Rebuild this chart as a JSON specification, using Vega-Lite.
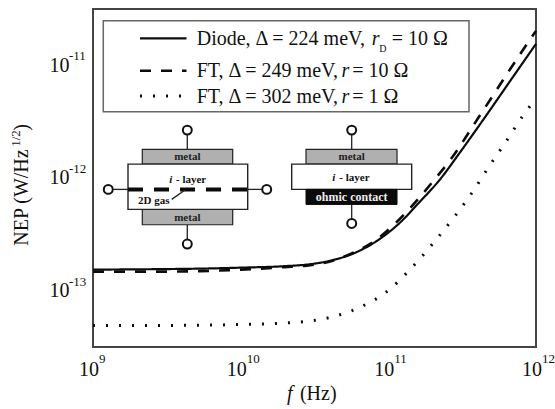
{
"$schema":"https://vega.github.io/schema/vega-lite/v6.json",
"width":443,"height":338,
"autosize":{"type":"none"},
"padding":{"left":93,"top":9,"right":19,"bottom":62},
"background":"white",
"config":{"view":{"stroke":"#444","strokeWidth":2},"text":{"font":"Liberation Serif","color":"#111"}},
"datasets":{
 "xminor":[{"f":2e9},{"f":3e9},{"f":4e9},{"f":5e9},{"f":6e9},{"f":7e9},{"f":8e9},{"f":9e9},{"f":2e10},{"f":3e10},{"f":4e10},{"f":5e10},{"f":6e10},{"f":7e10},{"f":8e10},{"f":9e10},{"f":2e11},{"f":3e11},{"f":4e11},{"f":5e11},{"f":6e11},{"f":7e11},{"f":8e11},{"f":9e11}],
 "xmajor":[{"f":1e10},{"f":1e11}],
 "yminor":[{"nep":4e-14},{"nep":5e-14},{"nep":6e-14},{"nep":7e-14},{"nep":8e-14},{"nep":9e-14},{"nep":2e-13},{"nep":3e-13},{"nep":4e-13},{"nep":5e-13},{"nep":6e-13},{"nep":7e-13},{"nep":8e-13},{"nep":9e-13},{"nep":2e-12},{"nep":3e-12},{"nep":4e-12},{"nep":5e-12},{"nep":6e-12},{"nep":7e-12},{"nep":8e-12},{"nep":9e-12},{"nep":2e-11}],
 "ymajor":[{"nep":1e-13},{"nep":1e-12},{"nep":1e-11}]
},
"encoding":{
 "x":{"field":"f","type":"quantitative","scale":{"type":"log","domain":[1e9,1e12],"nice":false,"zero":false},"axis":null},
 "y":{"field":"nep","type":"quantitative","scale":{"type":"log","domain":[3e-14,3e-11],"nice":false,"zero":false},"axis":null}
},
"resolve":{"axis":{"x":"independent","y":"independent"}},
"layer":[
{"data":{"values":[
 {"series":"Diode","f":1e9,"nep":1.458e-13},{"series":"Diode","f":2.84e9,"nep":1.473e-13},{"series":"Diode","f":5.29e9,"nep":1.488e-13},{"series":"Diode","f":1e10,"nep":1.518e-13},{"series":"Diode","f":1.98e10,"nep":1.565e-13},{"series":"Diode","f":2.97e10,"nep":1.631e-13},{"series":"Diode","f":4.19e10,"nep":1.769e-13},{"series":"Diode","f":6.08e10,"nep":2.083e-13},{"series":"Diode","f":8.69e10,"nep":2.714e-13},{"series":"Diode","f":1.186e11,"nep":3.76e-13},{"series":"Diode","f":1.62e11,"nep":5.77e-13},{"series":"Diode","f":2.21e11,"nep":9.03e-13},{"series":"Diode","f":3.02e11,"nep":1.566e-12},{"series":"Diode","f":4.12e11,"nep":2.77e-12},{"series":"Diode","f":6.89e11,"nep":7.3e-12},{"series":"Diode","f":1e12,"nep":1.472e-11},
 {"series":"FT 249","f":1e9,"nep":1.40e-13},{"series":"FT 249","f":2.84e9,"nep":1.40e-13},{"series":"FT 249","f":5.29e9,"nep":1.414e-13},{"series":"FT 249","f":1e10,"nep":1.458e-13},{"series":"FT 249","f":1.98e10,"nep":1.534e-13},{"series":"FT 249","f":2.79e10,"nep":1.581e-13},{"series":"FT 249","f":4.19e10,"nep":1.751e-13},{"series":"FT 249","f":5.89e10,"nep":2.083e-13},{"series":"FT 249","f":8.03e10,"nep":2.606e-13},{"series":"FT 249","f":1.115e11,"nep":3.76e-13},{"series":"FT 249","f":1.52e11,"nep":5.77e-13},{"series":"FT 249","f":1.98e11,"nep":8.67e-13},{"series":"FT 249","f":2.67e11,"nep":1.414e-12},{"series":"FT 249","f":4.12e11,"nep":3.33e-12},{"series":"FT 249","f":7.92e11,"nep":1.225e-11},{"series":"FT 249","f":1e12,"nep":1.919e-11},
 {"series":"FT 302","f":1e9,"nep":4.66e-14},{"series":"FT 302","f":2.84e9,"nep":4.66e-14},{"series":"FT 302","f":1e10,"nep":4.75e-14},{"series":"FT 302","f":1.98e10,"nep":4.90e-14},{"series":"FT 302","f":2.92e10,"nep":5.10e-14},{"series":"FT 302","f":4.39e10,"nep":5.65e-14},{"series":"FT 302","f":6.47e10,"nep":6.79e-14},{"series":"FT 302","f":9.69e10,"nep":9.22e-14},{"series":"FT 302","f":1.43e11,"nep":1.503e-13},{"series":"FT 302","f":2.01e11,"nep":2.50e-13},{"series":"FT 302","f":2.75e11,"nep":4.16e-13},{"series":"FT 302","f":3.70e11,"nep":7.07e-13},{"series":"FT 302","f":4.81e11,"nep":1.201e-12},{"series":"FT 302","f":6.27e11,"nep":2.00e-12},{"series":"FT 302","f":8.17e11,"nep":3.40e-12},{"series":"FT 302","f":1e12,"nep":4.80e-12}
 ]},
 "mark":{"type":"line","interpolate":"monotone","color":"#0c0c0c"},
 "encoding":{
  "x":{"field":"f","type":"quantitative","scale":{"type":"log","domain":[1e9,1e12],"nice":false,"zero":false},
   "axis":{"orient":"bottom","title":null,"grid":false,"domain":false,"ticks":false,"tickSize":0,
    "values":[1e9,1e10,1e11,1e12],
    "labelExpr":"'10'",
    "labelFont":"Liberation Serif","labelFontSize":20,"labelColor":"#111","labelAlign":"right","labelBaseline":"alphabetic","labelOffset":5.5,"labelPadding":28,"labelOverlap":false,"labelFlush":false,"labelBound":false}},
  "y":{"field":"nep","type":"quantitative","scale":{"type":"log","domain":[3e-14,3e-11],"nice":false,"zero":false},
   "axis":{"orient":"left","title":null,"grid":false,"domain":false,"ticks":false,"tickSize":0,
    "values":[1e-13,1e-12,1e-11],
    "labelExpr":"'10'",
    "labelFont":"Liberation Serif","labelFontSize":20,"labelColor":"#111","labelAlign":"right","labelBaseline":"alphabetic","labelOffset":8.5,"labelPadding":24,"labelOverlap":false,"labelFlush":false,"labelBound":false}},
  "strokeDash":{"field":"series","type":"nominal","legend":null,"scale":{"domain":["Diode","FT 249","FT 302"],"range":[[1,0],[11,10],[2,11]]}},
  "strokeWidth":{"field":"series","type":"nominal","legend":null,"scale":{"domain":["Diode","FT 249","FT 302"],"range":[2.2,3,2.2]}}
 }},
{"data":{"values":[{"f":1.174e9,"nep":2.357e-11,"f2":3.518e11,"nep2":3.672e-12}]},
 "mark":{"type":"rect","fill":"white","stroke":"#666","strokeWidth":1.5},
 "encoding":{"x2":{"field":"f2"},"y2":{"field":"nep2"}}},
{"data":{"values":[
 {"series":"Diode","f":2.081e9,"nep":1.645e-11},{"series":"Diode","f":4.297e9,"nep":1.645e-11},
 {"series":"FT 249","f":2.081e9,"nep":8.485e-12},{"series":"FT 249","f":4.297e9,"nep":8.485e-12},
 {"series":"FT 302","f":2.081e9,"nep":5.059e-12},{"series":"FT 302","f":4.297e9,"nep":5.059e-12}]},
 "mark":{"type":"line","color":"#0c0c0c"},
 "encoding":{
  "strokeDash":{"field":"series","type":"nominal","legend":null,"scale":{"domain":["Diode","FT 249","FT 302"],"range":[[1,0],[11,10],[2,11]]}},
  "strokeWidth":{"field":"series","type":"nominal","legend":null,"scale":{"domain":["Diode","FT 249","FT 302"],"range":[2.2,3,2.2]}}
 }},
{"data":{"values":[
 {"f":5.038e9,"nep":1.4345e-11,"text":"Diode, Δ = 224 meV,"},
 {"f":1.054e11,"nep":1.4345e-11,"text":"= 10 Ω"},
 {"f":5.038e9,"nep":7.416e-12,"text":"FT, Δ = 249 meV,"},
 {"f":5.70e10,"nep":7.416e-12,"text":"= 10 Ω"},
 {"f":5.038e9,"nep":4.412e-12,"text":"FT, Δ = 302 meV,"},
 {"f":5.70e10,"nep":4.412e-12,"text":"= 1 Ω"}]},
 "mark":{"type":"text","fontSize":20,"align":"left","baseline":"alphabetic"},
 "encoding":{"text":{"field":"text"}}},
{"data":{"values":[
 {"f":7.715e10,"nep":1.4345e-11,"text":"r"},
 {"f":4.818e10,"nep":7.416e-12,"text":"r"},
 {"f":4.818e10,"nep":4.412e-12,"text":"r"}]},
 "mark":{"type":"text","fontSize":20,"fontStyle":"italic","align":"left","baseline":"alphabetic"},
 "encoding":{"text":{"field":"text"}}},
{"data":{"values":[{"f":8.685e10,"nep":1.243e-11,"text":"D"}]},
 "mark":{"type":"text","fontSize":10,"align":"left","baseline":"alphabetic"},
 "encoding":{"text":{"field":"text"}}},
{"data":{"values":[
 {"f":4.351e9,"nep":2.327e-12,"f2":4.351e9,"nep2":1.702e-12},
 {"f":4.351e9,"nep":3.65e-13,"f2":4.351e9,"nep2":2.667e-13},
 {"f":1.377e9,"nep":7.516e-13,"f2":1.726e9,"nep2":7.516e-13},
 {"f":1.116e10,"nep":7.516e-13,"f2":1.394e10,"nep2":7.516e-13},
 {"f":5.648e10,"nep":2.327e-12,"f2":5.648e10,"nep2":1.702e-12},
 {"f":5.648e10,"nep":5.53e-13,"f2":5.648e10,"nep2":4.10e-13}]},
 "mark":{"type":"rule","color":"#222","strokeWidth":1.3},
 "encoding":{"x2":{"field":"f2"},"y2":{"field":"nep2"}}},
{"data":{"values":[
 {"f":2.157e9,"nep":1.702e-12,"f2":8.832e9,"nep2":1.26e-12},
 {"f":2.157e9,"nep":4.995e-13,"f2":8.832e9,"nep2":3.65e-13},
 {"f":2.77e10,"nep":1.702e-12,"f2":1.145e11,"nep2":1.26e-12}]},
 "mark":{"type":"rect","fill":"#b0b0b0","stroke":"#222","strokeWidth":1.2},
 "encoding":{"x2":{"field":"f2"},"y2":{"field":"nep2"}}},
{"data":{"values":[
 {"f":1.726e9,"nep":1.26e-12,"f2":1.116e10,"nep2":4.995e-13},
 {"f":2.216e10,"nep":1.26e-12,"f2":1.439e11,"nep2":7.516e-13}]},
 "mark":{"type":"rect","fill":"white","stroke":"#222","strokeWidth":1.4},
 "encoding":{"x2":{"field":"f2"},"y2":{"field":"nep2"}}},
{"data":{"values":[{"f":2.77e10,"nep":7.516e-13,"f2":1.145e11,"nep2":5.53e-13}]},
 "mark":{"type":"rect","fill":"#0a0a0a","stroke":"#0a0a0a"},
 "encoding":{"x2":{"field":"f2"},"y2":{"field":"nep2"}}},
{"data":{"values":[{"f":1.726e9,"nep":7.516e-13,"f2":1.116e10,"nep2":7.516e-13}]},
 "mark":{"type":"rule","color":"#0a0a0a","strokeWidth":4,"strokeDash":[15,11]},
 "encoding":{"x2":{"field":"f2"},"y2":{"field":"nep2"}}},
{"data":{"values":[{"f":3.411e9,"nep":6.13e-13,"f2":4.198e9,"nep2":7.41e-13}]},
 "mark":{"type":"rule","color":"#222","strokeWidth":1.3},
 "encoding":{"x2":{"field":"f2"},"y2":{"field":"nep2"}}},
{"data":{"values":[
 {"f":4.351e9,"nep":2.525e-12},{"f":4.351e9,"nep":2.458e-13},{"f":1.269e9,"nep":7.516e-13},{"f":1.501e10,"nep":7.516e-13},{"f":5.648e10,"nep":2.525e-12},{"f":5.648e10,"nep":3.75e-13}]},
 "mark":{"type":"point","filled":true,"fill":"white","stroke":"#111","strokeWidth":2,"size":80,"opacity":1}},
{"data":{"values":[
 {"f":4.351e9,"nep":1.455e-12,"text":"metal"},
 {"f":4.351e9,"nep":4.18e-13,"text":"metal"},
 {"f":5.648e10,"nep":1.455e-12,"text":"metal"}]},
 "mark":{"type":"text","fontSize":11,"fontWeight":"bold","align":"center","baseline":"middle","color":"#222"},
 "encoding":{"text":{"field":"text"}}},
{"data":{"values":[
 {"f":3.648e9,"nep":8.60e-13,"text":"- layer"},
 {"f":4.656e10,"nep":8.96e-13,"text":"- layer"},
 {"f":2.02e9,"nep":5.57e-13,"text":"2D gas"}]},
 "mark":{"type":"text","fontSize":11,"fontWeight":"bold","align":"left","baseline":"alphabetic"},
 "encoding":{"text":{"field":"text"}}},
{"data":{"values":[
 {"f":3.287e9,"nep":8.60e-13,"text":"i"},
 {"f":4.174e10,"nep":8.96e-13,"text":"i"}]},
 "mark":{"type":"text","fontSize":11,"fontWeight":"bold","fontStyle":"italic","align":"left","baseline":"alphabetic"},
 "encoding":{"text":{"field":"text"}}},
{"data":{"values":[{"f":5.648e10,"nep":6.42e-13,"text":"ohmic contact"}]},
 "mark":{"type":"text","fontSize":12,"fontWeight":"bold","align":"center","baseline":"middle","color":"#eee"},
 "encoding":{"text":{"field":"text"}}},
{"data":{"values":[
 {"f":1e9,"nep":3e-14,"text":"9"},{"f":1e10,"nep":3e-14,"text":"10"},{"f":1e11,"nep":3e-14,"text":"11"},{"f":1e12,"nep":3e-14,"text":"12"}]},
 "mark":{"type":"text","fontSize":13,"align":"left","baseline":"alphabetic","dx":6,"dy":16},
 "encoding":{"text":{"field":"text"}}},
{"data":{"values":[
 {"f":1e9,"nep":1e-13,"text":"-13"},{"f":1e9,"nep":1e-12,"text":"-12"},{"f":1e9,"nep":1e-11,"text":"-11"}]},
 "mark":{"type":"text","fontSize":13,"align":"left","baseline":"alphabetic","dx":-24,"dy":-2.5},
 "encoding":{"text":{"field":"text"}}},
{"data":{"values":[{"f":2.52e10,"nep":1.014e-14,"text":"(Hz)"}]},
 "mark":{"type":"text","fontSize":20,"align":"left","baseline":"alphabetic"},
 "encoding":{"text":{"field":"text"}}},
{"data":{"values":[{"f":2.06e10,"nep":1.014e-14,"text":"f"}]},
 "mark":{"type":"text","fontSize":20,"fontStyle":"italic","align":"left","baseline":"alphabetic"},
 "encoding":{"text":{"field":"text"}}},
{"data":{"values":[{"f":3.63e8,"nep":2.375e-13,"text":"NEP (W/Hz"}]},
 "mark":{"type":"text","fontSize":20,"angle":270,"align":"left","baseline":"alphabetic"},
 "encoding":{"text":{"field":"text"}}},
{"data":{"values":[{"f":3.63e8,"nep":2.49e-12,"text":")"}]},
 "mark":{"type":"text","fontSize":20,"angle":270,"align":"left","baseline":"alphabetic"},
 "encoding":{"text":{"field":"text"}}},
{"data":{"values":[{"f":3.2e8,"nep":1.795e-12,"text":"1/2"}]},
 "mark":{"type":"text","fontSize":13,"angle":270,"align":"left","baseline":"alphabetic"},
 "encoding":{"text":{"field":"text"}}},
{"data":{"name":"xminor"},"mark":{"type":"rule","color":"#222","strokeWidth":1.2},
 "encoding":{"y":{"datum":3e-14,"type":"quantitative","scale":{"type":"log","domain":[3e-14,3e-11],"nice":false,"zero":false},"axis":null},"y2":{"datum":3.323e-14}}},
{"data":{"name":"xminor"},"mark":{"type":"rule","color":"#222","strokeWidth":1.2},
 "encoding":{"y":{"datum":3e-11,"type":"quantitative","scale":{"type":"log","domain":[3e-14,3e-11],"nice":false,"zero":false},"axis":null},"y2":{"datum":2.709e-11}}},
{"data":{"name":"xmajor"},"mark":{"type":"rule","color":"#222","strokeWidth":1.2},
 "encoding":{"y":{"datum":3e-14,"type":"quantitative","scale":{"type":"log","domain":[3e-14,3e-11],"nice":false,"zero":false},"axis":null},"y2":{"datum":3.533e-14}}},
{"data":{"name":"xmajor"},"mark":{"type":"rule","color":"#222","strokeWidth":1.2},
 "encoding":{"y":{"datum":3e-11,"type":"quantitative","scale":{"type":"log","domain":[3e-14,3e-11],"nice":false,"zero":false},"axis":null},"y2":{"datum":2.548e-11}}},
{"data":{"name":"yminor"},"mark":{"type":"rule","color":"#222","strokeWidth":1.2},
 "encoding":{"x":{"datum":1e9,"type":"quantitative","scale":{"type":"log","domain":[1e9,1e12],"nice":false,"zero":false},"axis":null},"x2":{"datum":1.081e9}}},
{"data":{"name":"yminor"},"mark":{"type":"rule","color":"#222","strokeWidth":1.2},
 "encoding":{"x":{"datum":1e12,"type":"quantitative","scale":{"type":"log","domain":[1e9,1e12],"nice":false,"zero":false},"axis":null},"x2":{"datum":9.25e11}}},
{"data":{"name":"ymajor"},"mark":{"type":"rule","color":"#222","strokeWidth":1.2},
 "encoding":{"x":{"datum":1e9,"type":"quantitative","scale":{"type":"log","domain":[1e9,1e12],"nice":false,"zero":false},"axis":null},"x2":{"datum":1.133e9}}},
{"data":{"name":"ymajor"},"mark":{"type":"rule","color":"#222","strokeWidth":1.2},
 "encoding":{"x":{"datum":1e12,"type":"quantitative","scale":{"type":"log","domain":[1e9,1e12],"nice":false,"zero":false},"axis":null},"x2":{"datum":8.826e11}}}
]}
